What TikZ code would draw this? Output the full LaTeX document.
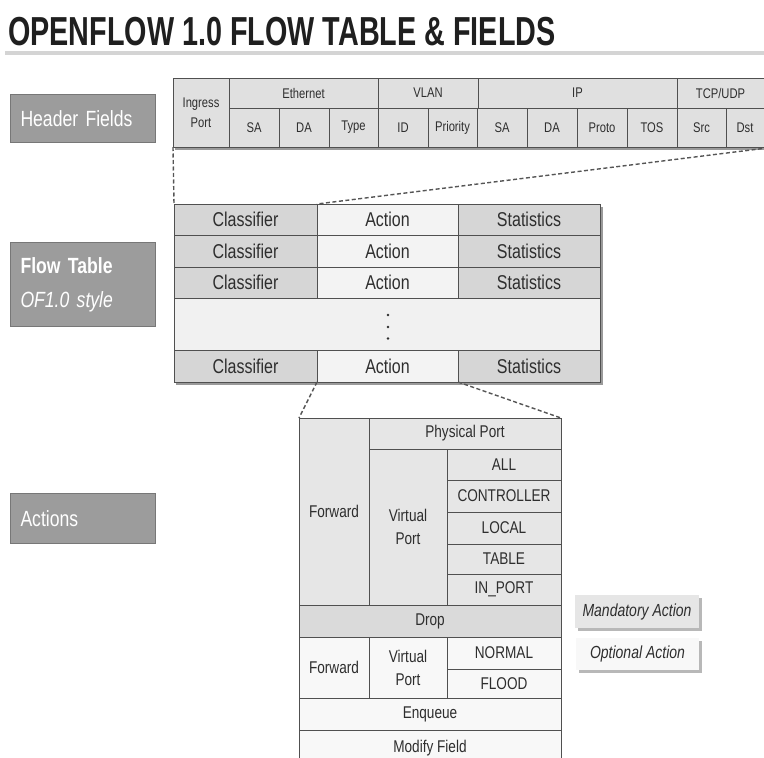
\documentclass[tikz,border=0pt]{standalone}
\usepackage{fontspec}
\setmainfont{Liberation Sans}[FakeStretch=0.8]
\newfontfamily\titlefont{Liberation Sans}[FakeStretch=0.71]
\definecolor{bordc}{HTML}{505050}
\definecolor{txtc}{HTML}{2E2E2E}
\definecolor{hdrfill}{HTML}{E0E0E0}
\definecolor{clsfill}{HTML}{D6D6D6}
\definecolor{actfill}{HTML}{F3F3F3}
\definecolor{dotfill}{HTML}{F1F1F1}
\definecolor{lblfill}{HTML}{9C9C9C}
\definecolor{lblbord}{HTML}{777777}
\definecolor{mandfill}{HTML}{E6E6E6}
\definecolor{dropfill}{HTML}{DADADA}
\definecolor{optfill}{HTML}{F8F8F8}
\definecolor{shadc}{HTML}{9A9A9A}
\definecolor{rulec}{HTML}{D4D4D4}
\definecolor{dashc}{HTML}{555555}
\newcommand\cellbox[7]{%
  \pgfmathsetmacro\cbw{#4-#2}\pgfmathsetmacro\cbh{#5-#3}%
  \pgfmathsetmacro\cbx{(#2+#4)/2}\pgfmathsetmacro\cby{(#3+#5)/2}%
  \node[cell, fill=#6, minimum width=\cbw pt, minimum height=\cbh pt] (#1) at (\cbx,\cby) {#7};}
\begin{document}
\begin{tikzpicture}[x=1pt,y=-1pt,
  cell/.style={draw=bordc, line width=0.9pt, inner sep=0pt, outer sep=0pt, align=center, text=txtc},
  lbl/.style={draw=lblbord, line width=1pt, fill=lblfill, text=white, anchor=north west, inner xsep=10pt, inner ysep=0pt, minimum width=145pt, text width=125pt, align=left, font=\fontsize{22}{34}\selectfont},
  conn/.style={draw=dashc, line width=1.4pt, dash pattern=on 4pt off 2.5pt},
  legend/.style={inner sep=0pt, text=txtc, font=\itshape\fontsize{17.5}{20}\selectfont}]
\useasboundingbox (0,0) rectangle (764,758);
\fill[white] (0,0) rectangle (764,758);

% title
\node[anchor=base west, inner sep=0pt, text=black!88, font=\titlefont\bfseries\fontsize{40.5}{40}\selectfont] (title) at (8,45) {OPENFLOW 1.0 FLOW TABLE \& FIELDS};
\coordinate (r1) at (5,52.5);
\coordinate (r2) at (764,52.5);
\draw[rulec, line width=4pt] (r1) -- (r2);

% left labels
\node[lbl, minimum height=48pt] (lhf) at (10,94) {Header Fields};
\node[lbl, minimum height=84pt] (lft) at (10,242) {\raisebox{-2pt}{\textbf{Flow Table}}\\\raisebox{-2pt}{\textit{OF1.0 style}}};
\node[lbl, minimum height=50pt] (lac) at (10,493) {Actions};

% shadows
\fill[shadc] (175,81) rectangle (766,150);
\fill[shadc] (176,207) rectangle (603,385);
\fill[shadc!70] (578,598) rectangle (702,631);
\fill[shadc!70] (579,641) rectangle (702,673);

% header fields table
\begin{scope}[cell/.append style={font=\fontsize{14}{20}\selectfont}]
\cellbox{ingress}{173}{78}{229}{147}{hdrfill}{Ingress\\Port}
\cellbox{eth}{229}{78}{378}{108}{hdrfill}{Ethernet}
\cellbox{vlan}{378}{78}{478}{108}{hdrfill}{VLAN}
\cellbox{ip}{478}{78}{677}{108}{hdrfill}{IP}
\cellbox{tcp}{677}{78}{775}{108}{hdrfill}{\hspace*{-11pt}TCP/UDP}
\cellbox{esa}{229}{108}{279}{147}{hdrfill}{SA}
\cellbox{eda}{279}{108}{329}{147}{hdrfill}{DA}
\cellbox{etype}{329}{108}{378}{147}{hdrfill}{Type}
\cellbox{vid}{378}{108}{428}{147}{hdrfill}{ID}
\cellbox{vpri}{428}{108}{477}{147}{hdrfill}{Priority}
\cellbox{isa}{477}{108}{527}{147}{hdrfill}{SA}
\cellbox{ida}{527}{108}{577}{147}{hdrfill}{DA}
\cellbox{iproto}{577}{108}{627}{147}{hdrfill}{Proto}
\cellbox{itos}{627}{108}{677}{147}{hdrfill}{TOS}
\cellbox{tsrc}{677}{108}{726}{147}{hdrfill}{Src}
\cellbox{tdst}{726}{108}{775}{147}{hdrfill}{\hspace*{-11pt}Dst}
\end{scope}

% flow table
\begin{scope}[cell/.append style={font=\fontsize{20}{24}\selectfont}]
\cellbox{cls1}{174}{204}{317}{235}{clsfill}{Classifier}
\cellbox{act1}{317}{204}{458}{235}{actfill}{Action}
\cellbox{sta1}{458}{204}{600}{235}{clsfill}{Statistics}
\cellbox{cls2}{174}{235}{317}{267}{clsfill}{Classifier}
\cellbox{act2}{317}{235}{458}{267}{actfill}{Action}
\cellbox{sta2}{458}{235}{600}{267}{clsfill}{Statistics}
\cellbox{cls3}{174}{267}{317}{298}{clsfill}{Classifier}
\cellbox{act3}{317}{267}{458}{298}{actfill}{Action}
\cellbox{sta3}{458}{267}{600}{298}{clsfill}{Statistics}
\cellbox{dots}{174}{298}{600}{350}{dotfill}{}
\cellbox{cls4}{174}{350}{317}{382}{clsfill}{Classifier}
\cellbox{act4}{317}{350}{458}{382}{actfill}{Action}
\cellbox{sta4}{458}{350}{600}{382}{clsfill}{Statistics}
\end{scope}
\fill[txtc] (388,315) circle (1.3) (388,327) circle (1.3) (388,338.5) circle (1.3);

% actions table
\begin{scope}[cell/.append style={font=\fontsize{17}{23}\selectfont}]
\cellbox{fwd1}{299}{418}{369}{605}{mandfill}{Forward}
\cellbox{phys}{369}{418}{561}{449}{mandfill}{Physical Port}
\cellbox{vport1}{369}{449}{447}{605}{mandfill}{Virtual\\Port}
\cellbox{all}{447}{449}{561}{480}{mandfill}{ALL}
\cellbox{ctrl}{447}{480}{561}{512}{mandfill}{CONTROLLER}
\cellbox{local}{447}{512}{561}{544}{mandfill}{LOCAL}
\cellbox{tbl}{447}{544}{561}{574}{mandfill}{TABLE}
\cellbox{inport}{447}{574}{561}{605}{mandfill}{IN\_PORT}
\cellbox{drop}{299}{605}{561}{637}{dropfill}{Drop}
\cellbox{fwd2}{299}{637}{369}{698}{optfill}{Forward}
\cellbox{vport2}{369}{637}{447}{698}{optfill}{Virtual\\Port}
\cellbox{normal}{447}{637}{561}{669}{optfill}{NORMAL}
\cellbox{flood}{447}{669}{561}{698}{optfill}{FLOOD}
\cellbox{enq}{299}{698}{561}{730}{optfill}{Enqueue}
\cellbox{modf}{299}{730}{561}{766}{optfill}{\raisebox{3pt}{Modify Field}}
\end{scope}

% legend
\node[legend, fill=mandfill, minimum width=124pt, minimum height=33pt] (mand) at (637,611.5) {Mandatory Action};
\node[legend, fill=optfill, minimum width=123pt, minimum height=32pt] (opt) at (637.5,654) {Optional Action};

% connectors
\draw[conn] (ingress.south west) -- (cls1.north west);
\draw[conn] (tdst.south east) -- (act1.north west);
\draw[conn] (act4.south west) -- (fwd1.north west);
\draw[conn] (act4.south east) -- (phys.north east);
\end{tikzpicture}
\end{document}
